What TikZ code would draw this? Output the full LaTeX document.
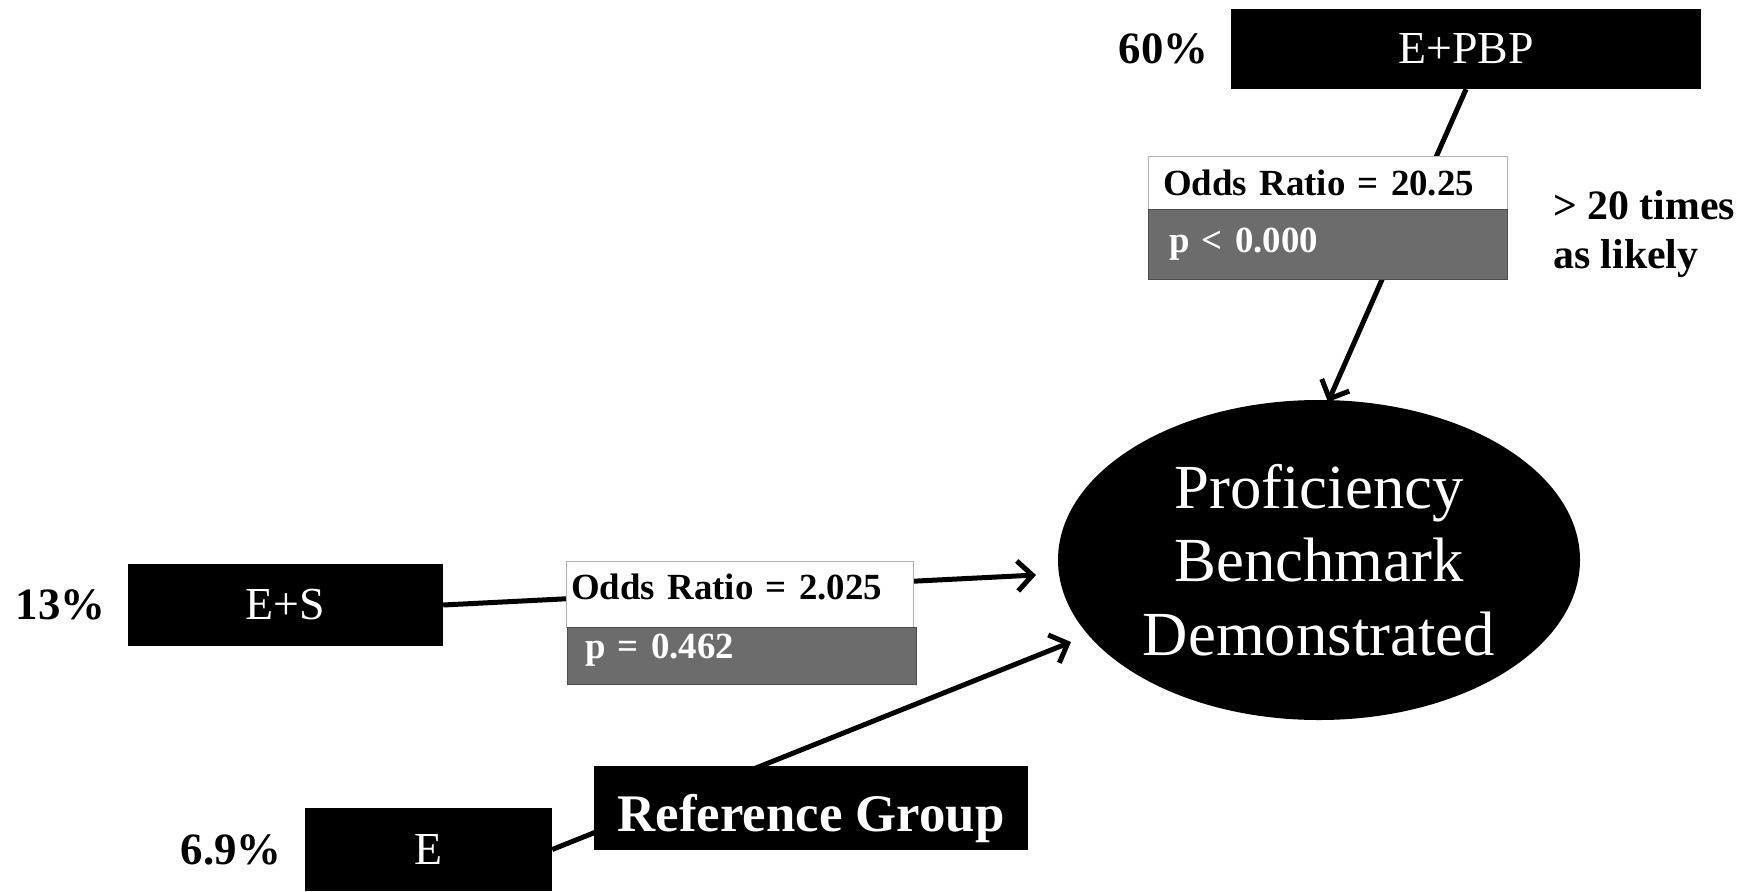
\documentclass[tikz,border=0pt]{standalone}
\usepackage{fontspec}
\setmainfont{Liberation Serif}
\usetikzlibrary{arrows.meta,positioning,shapes.geometric}
\definecolor{pgray}{RGB}{108,108,108}

\begin{document}
\begin{tikzpicture}[x=1bp,y=-1bp,>={Straight Barb[length=15bp,width=30bp]},
  grp/.style={fill=black,text=white,minimum width=#1,minimum height=82bp,inner sep=0pt,font=\fontsize{46}{55}\selectfont},
  pct/.style={inner sep=0pt,font=\bfseries\fontsize{45}{54}\selectfont},
  oddsr/.style={draw=gray!60,fill=white,anchor=north west,inner ysep=0pt,font=\bfseries\fontsize{37}{44}\selectfont},
  pval/.style={draw=black!70,fill=pgray,text=white,anchor=north west,inner ysep=0pt,font=\bfseries\fontsize{37}{44}\selectfont},
  link/.style={line width=5bp}]
\useasboundingbox (0,0) rectangle (1750,891);
% groups and outcome
\node[grp=470bp,minimum height=80bp] (pbp) at (1466,49) {E+PBP};
\node[grp=315bp] (es) at (285.5,605) {E+S};
\node[grp=247bp,minimum height=83bp] (e) at (428.5,849.5) {E};
\node[ellipse,fill=black,text=white,minimum width=522bp,minimum height=320bp,inner sep=0pt,align=center,font=\fontsize{63}{74}\selectfont] (goal) at (1319,560) {Proficiency\\Benchmark\\Demonstrated};
\node[pct,left=22bp of pbp] (pbppct) {60\%};
\node[pct,left=22bp of es] (espct) {13\%};
\node[pct,left=23bp of e] (epct) {6.9\%};
% paths into the outcome
\coordinate (pbptip) at (1328,402);
\coordinate (estip) at (1036,575);
\coordinate (etip) at (1071,642);
\draw[link,->] (pbp.south) -- (pbptip);
\draw[link,->] (es.east) -- (estip);
\draw[link,->] (e.east) -- (etip);
\node[grp=434bp,minimum height=84bp,text height=46bp,text depth=0bp,font=\bfseries\fontsize{53}{60}\selectfont] (refgrp) at (811,808) {Reference Group};
% odds ratios
\node[oddsr,minimum height=53bp,inner xsep=15bp,text width=329bp] (or1) at (1148,156) {Odds Ratio = 20.25};
\node[pval,minimum height=70bp,inner xsep=21bp,text width=317bp] (p1) at (1148,209) {p < 0.000};
\node[oddsr,minimum height=66bp,inner xsep=5bp,text width=337bp,text height=25bp,text depth=15bp] (or2) at (566,561) {Odds Ratio = 2.025};
\node[pval,minimum height=57bp,inner xsep=18bp,text width=313bp,text height=25bp,text depth=20bp] (p2) at (567,627) {p = 0.462};
\node[anchor=west,align=left,inner sep=0pt,font=\bfseries\fontsize{42}{50}\selectfont] (likely) at (1553,234) {> 20 times\\as likely};
\end{tikzpicture}
\end{document}
